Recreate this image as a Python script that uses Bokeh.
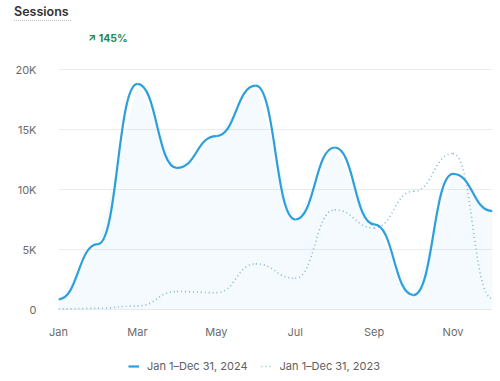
import numpy as np
from bokeh.plotting import figure
from bokeh.models import (Range1d, FixedTicker, Legend, LegendItem, Div,
                          ColumnDataSource)
from bokeh.layouts import column
from bokeh.embed import file_html
from bokeh.resources import INLINE

# ---- data ----
months = ["Jan", "Feb", "Mar", "Apr", "May", "Jun",
          "Jul", "Aug", "Sep", "Oct", "Nov", "Dec"]
month_idx = list(range(len(months)))
sessions_2024 = [850, 5450, 18800, 11800, 14450, 18650, 7500, 13500, 7100, 1200, 11300, 8200]
sessions_2023 = [50, 100, 300, 1500, 1400, 3800, 2600, 8300, 6800, 9850, 13000, 900]
y_ticks = [0, 5000, 10000, 15000, 20000]
y_tick_labels = ["0", "5K", "10K", "15K", "20K"]
x_ticks = [0, 2, 4, 6, 8, 10]
title_text = "Sessions"
change_text = "\u2197 145%"
label_2024 = "Jan 1\u2013Dec 31, 2024"
label_2023 = "Jan 1\u2013Dec 31, 2023"

FONT = "Inter"
BLUE = "#2d9fdb"
DOT = "#86b6d6"
HEADER_H = 50
MAIN_H = 295
LEGEND_H = 381 - HEADER_H - MAIN_H


def bump_source(xs, ys):
    xs = np.asarray(xs, dtype=float)
    ys = np.asarray(ys, dtype=float)
    xm = (xs[:-1] + xs[1:]) / 2
    return ColumnDataSource(dict(x0=xs[:-1], y0=ys[:-1], x1=xs[1:], y1=ys[1:],
                                 cx0=xm, cy0=ys[:-1], cx1=xm, cy1=ys[1:]))


header = Div(
    text=(f'<div style="position:relative;width:500px;height:{HEADER_H}px;'
          f'font-family:{FONT};">'
          '<span style="position:absolute;left:14px;top:4px;font-size:12.5px;'
          'line-height:16px;font-weight:600;color:#333333;'
          'border-bottom:1px dotted #bdbdbd;padding-right:2px;">'
          f'{title_text}</span>'
          '<span style="position:absolute;left:88px;top:32px;font-size:10.5px;'
          'line-height:13px;font-weight:700;color:#1f8a4f;">'
          f'{change_text}</span></div>'),
    width=500, height=HEADER_H, margin=(0, 0, 0, 0))

p = figure(width=500, height=MAIN_H, output_backend="svg",
           toolbar_location=None,
           x_range=Range1d(0, 11), y_range=Range1d(-500, 20500),
           min_border_left=58, min_border_right=8,
           min_border_top=63 - HEADER_H, min_border_bottom=30,
           margin=(0, 0, 0, 0))
p.outline_line_color = None
p.background_fill_color = "white"
p.border_fill_color = "white"

# area fill under 2024
p.varea(x=month_idx, y1=[0] * len(month_idx), y2=sessions_2024,
        fill_color=BLUE, fill_alpha=0.05)

src23 = bump_source(month_idx, sessions_2023)
src24 = bump_source(month_idx, sessions_2024)
style23 = dict(line_color=DOT, line_width=1.6, line_dash="1 3")
style24 = dict(line_color=BLUE, line_width=2.2)
p.bezier(x0="x0", y0="y0", x1="x1", y1="y1", cx0="cx0", cy0="cy0",
         cx1="cx1", cy1="cy1", source=src23, **style23)
p.bezier(x0="x0", y0="y0", x1="x1", y1="y1", cx0="cx0", cy0="cy0",
         cx1="cx1", cy1="cy1", source=src24, **style24)

# axes
p.xaxis.ticker = FixedTicker(ticks=x_ticks)
p.xaxis.major_label_overrides = {t: months[t] for t in x_ticks}
p.yaxis.ticker = FixedTicker(ticks=y_ticks)
p.yaxis.major_label_overrides = {t: l for t, l in zip(y_ticks, y_tick_labels)}
for ax in (p.xaxis, p.yaxis):
    ax.axis_line_color = None
    ax.major_tick_line_color = None
    ax.minor_tick_line_color = None
    ax.major_tick_out = 0
    ax.major_tick_in = 0
    ax.major_label_text_font = FONT
    ax.major_label_text_font_size = "11px"
    ax.major_label_text_color = "#6b6b6b"
p.xaxis.major_label_standoff = 9
p.yaxis.major_label_standoff = 22
p.xgrid.grid_line_color = None
p.ygrid.grid_line_color = "#ececec"
p.ygrid.grid_line_width = 1

# legend strip: same series and line styles, data kept outside its view
lg = figure(width=500, height=LEGEND_H, output_backend="svg",
            toolbar_location=None, x_axis_type=None, y_axis_type=None,
            x_range=Range1d(-30, -20), y_range=Range1d(0, 1),
            min_border=0, margin=(0, 0, 0, 0))
lg.outline_line_color = None
lg.grid.visible = False
k24 = lg.line(x=month_idx, y=sessions_2024, **style24)
k23 = lg.line(x=month_idx, y=sessions_2023, **style23)
legend = Legend(items=[LegendItem(label=label_2024, renderers=[k24]),
                       LegendItem(label=label_2023, renderers=[k23])],
                location=(70, LEGEND_H - 21 - 7), orientation="horizontal",
                border_line_color=None, background_fill_alpha=0,
                label_text_font=FONT, label_text_font_size="11px",
                label_text_color="#606060", glyph_width=11, glyph_height=14,
                label_standoff=8, spacing=13, padding=0, margin=0,
                label_height=14)
lg.add_layout(legend, "center")

layout = column(header, p, lg, spacing=0)
open("out.html", "w").write(file_html(layout, INLINE))
